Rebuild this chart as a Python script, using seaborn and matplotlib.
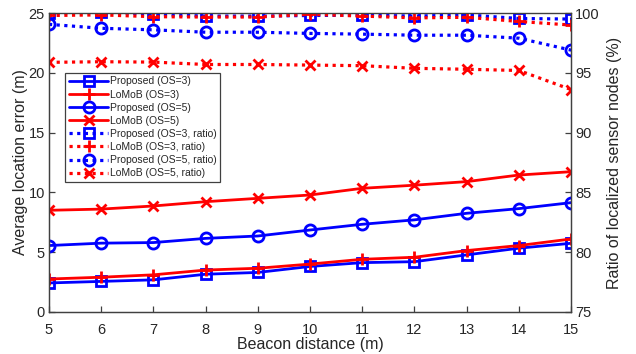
import matplotlib
matplotlib.use("Agg")
import matplotlib.pyplot as plt
import seaborn as sns

# Données
beacon = [5, 6, 7, 8, 9, 10, 11, 12, 13, 14, 15]

# Erreur moyenne de localisation (m), axe gauche
err_prop_os3 = [2.42, 2.55, 2.68, 3.15, 3.3, 3.8, 4.12, 4.2, 4.77, 5.33, 5.74]
err_lomob_os3 = [2.75, 2.9, 3.1, 3.5, 3.65, 4.0, 4.4, 4.57, 5.13, 5.55, 6.1]
err_prop_os5 = [5.55, 5.75, 5.8, 6.15, 6.35, 6.85, 7.33, 7.7, 8.25, 8.64, 9.14]
err_lomob_os5 = [8.5, 8.6, 8.86, 9.22, 9.5, 9.78, 10.34, 10.6, 10.9, 11.45, 11.73]

# Taux de noeuds localisés (%), axe droit
ratio_prop_os3 = [100.0, 100.1, 99.9, 99.75, 99.75, 99.8, 99.83, 99.75, 99.85, 99.55, 99.5]
ratio_lomob_os3 = [99.8, 99.85, 99.7, 99.67, 99.67, 99.9, 99.75, 99.6, 99.65, 99.3, 99.0]
ratio_prop_os5 = [99.06, 98.73, 98.6, 98.4, 98.4, 98.3, 98.24, 98.15, 98.15, 97.9, 96.9]
ratio_lomob_os5 = [95.88, 95.93, 95.9, 95.7, 95.7, 95.65, 95.6, 95.38, 95.3, 95.2, 93.6]

labels = ["Proposed (OS=3)", "LoMoB (OS=3)", "Proposed (OS=5)", "LoMoB (OS=5)",
          "Proposed (OS=3, ratio)", "LoMoB (OS=3, ratio)",
          "Proposed (OS=5, ratio)", "LoMoB (OS=5, ratio)"]

sns.set_style("ticks")
plt.rcParams["font.family"] = ["Liberation Sans", "DejaVu Sans"]

fig = plt.figure(figsize=(6.36, 3.54), dpi=100)
ax = fig.add_axes([0.077, 0.119, 0.821, 0.844])
ax2 = ax.twinx()

blue = (0, 0, 1)
red = (1, 0, 0)
dot = (0, (1, 1.4))
msize = {"s": 6.5, "+": 9, "o": 8, "x": 7}

left_series = [
    (err_prop_os3, blue, "s"),
    (err_lomob_os3, red, "+"),
    (err_prop_os5, blue, "o"),
    (err_lomob_os5, red, "x"),
]
right_series = [
    (ratio_prop_os3, blue, "s"),
    (ratio_lomob_os3, red, "+"),
    (ratio_prop_os5, blue, "o"),
    (ratio_lomob_os5, red, "x"),
]

for vals, c, m in left_series:
    sns.lineplot(x=beacon, y=vals, ax=ax, color=c, lw=2.0, marker=m,
                 markersize=msize[m], markerfacecolor="none", markeredgecolor=c,
                 markeredgewidth=2)

for vals, c, m in right_series:
    sns.lineplot(x=beacon, y=vals, ax=ax2, color=c, lw=2.3, linestyle=dot,
                 marker=m, markersize=msize[m], markerfacecolor="none",
                 markeredgecolor=c, markeredgewidth=2)

ax.set_xlim(5, 15)
ax.set_ylim(0, 25)
ax2.set_ylim(75, 100)
ax.set_xticks(range(5, 16))
ax.set_yticks(range(0, 26, 5))
ax2.set_yticks(range(75, 101, 5))

axis_col = "#404040"
for a in (ax, ax2):
    for s in a.spines.values():
        s.set_visible(True)
        s.set_color(axis_col)
        s.set_linewidth(0.9)
    a.tick_params(direction="in", length=4, width=0.9, colors=axis_col,
                  labelsize=10.5, labelcolor="#262626", pad=3)
ax.tick_params(axis="x", pad=8)
ax.spines["top"].set_color("#909090")

ax.set_xlabel("Beacon distance (m)", fontsize=11.5, color="#262626", labelpad=0)
ax.set_ylabel("Average location error (m)", fontsize=11.5, color="#262626", labelpad=0)
ax2.set_ylabel("Ratio of localized sensor nodes (%)", fontsize=11.5, color="#262626", labelpad=5)

handles = ax.get_lines()[:4] + ax2.get_lines()[:4]
leg = ax2.legend(handles, labels, loc="upper left", bbox_to_anchor=(0.031, 0.80),
                 fontsize=7.5, frameon=True, fancybox=False, framealpha=1,
                 edgecolor="#404040", handlelength=3.8, handletextpad=0.15,
                 labelspacing=0.3, borderpad=0.35, borderaxespad=0)
leg.get_frame().set_linewidth(0.9)

fig.savefig("out.png", dpi=100)
